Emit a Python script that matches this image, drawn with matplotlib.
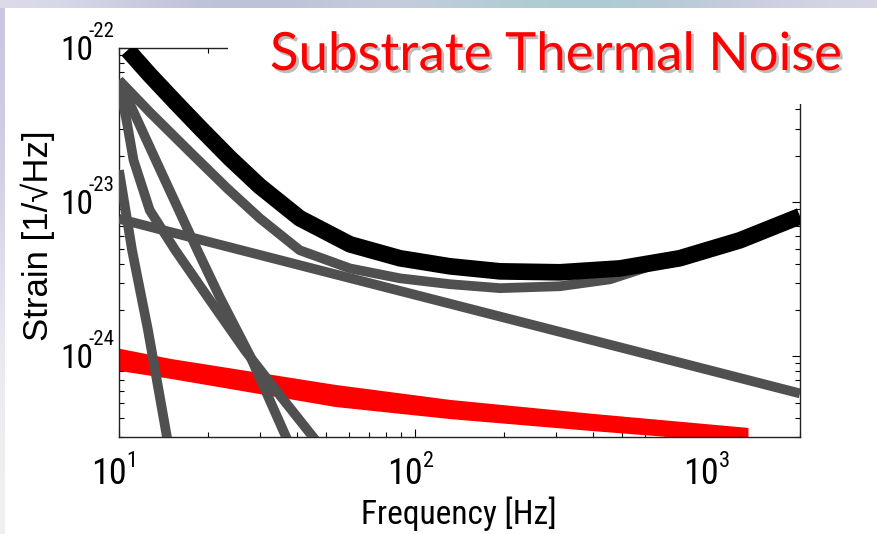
import numpy as np
import matplotlib
matplotlib.use('Agg')
import matplotlib.pyplot as plt
import matplotlib.patheffects as pe
from matplotlib import font_manager as fm
from matplotlib.patches import Rectangle

# total noise (black)
f_total = [10.7, 12.7, 15.5, 18.8, 23.7, 29.9, 40.8, 60.3, 88.9, 131, 194, 309, 493, 785, 1253, 2000]
s_total = [9.7e-23, 6.7e-23, 4.46e-23, 3.03e-23, 1.93e-23, 1.27e-23, 7.87e-24, 5.33e-24, 4.33e-24,
           3.84e-24, 3.56e-24, 3.51e-24, 3.72e-24, 4.33e-24, 5.66e-24, 8.11e-24]

# substrate contributions (grey)
f_sub = [10, 12.7, 17.4, 23.2, 29.9, 40.8, 60.3, 88.9, 131, 194, 309, 456, 622]
s_sub = [6.19e-23, 3.84e-23, 2.11e-23, 1.23e-23, 7.87e-24, 4.88e-24, 3.72e-24, 3.21e-24,
         2.94e-24, 2.77e-24, 2.85e-24, 3.16e-24, 3.84e-24]

f_steep = [10, 13.8, 18.4, 21.9, 27.7, 37.8]
s_steep = [6.19e-23, 1.61e-23, 4.88e-24, 2.42e-24, 1.01e-24, 2.64e-25]

f_bend = [10, 10.6, 11.2, 12.7, 15.5, 20.3, 26.7, 35.0, 47.7]
s_bend = [5.83e-23, 3.40e-23, 1.87e-23, 8.87e-24, 4.88e-24, 2.31e-24, 1.09e-24, 5.58e-25, 2.64e-25]

f_wall = [10, 11.07, 12.53, 14.75]
s_wall = [1.61e-23, 4.88e-24, 1.48e-24, 2.53e-25]

f_flat = [10, 100, 1000, 2000]
s_flat = [7.8e-24, 2.51e-24, 8.09e-25, 5.75e-25]

# red band
f_red = [10, 14.9, 53.7, 131, 398, 1334]
s_red_hi = [1.13e-24, 9.7e-25, 6.58e-25, 5.26e-25, 4.27e-25, 3.46e-25]
s_red_lo = [8.1e-25, 7.2e-25, 4.73e-25, 3.95e-25, 3.3e-25, 2.75e-25]

x_ticks = [10, 100, 1000]
x_exps = ['1', '2', '3']
y_ticks = [1e-24, 1e-23, 1e-22]
y_exps = ['-24', '-23', '-22']

grey = '#505050'


def narrow_font():
    # matlab-ish labels use a narrow helvetica; take whatever condensed sans is installed
    prefs = ['liberation sans narrow', 'arial narrow', 'roboto condensed', 'dejavu sans condensed',
             'dejavu sans', 'noto sans', 'open sans', 'lato', 'inter', 'roboto']
    found = {}
    for fe in fm.fontManager.ttflist:
        if fe.style != 'normal' or str(fe.stretch) not in ('condensed', 'semi-condensed', 'extra-condensed'):
            continue
        if fe.weight not in (400, 'normal', 'regular', 'book'):
            continue
        found.setdefault(fe.name.lower(), fe.fname)
    for p in prefs:
        if p in found:
            return found[p]
    if found:
        return sorted(found.items())[0][1]
    return None


nf = narrow_font()


def fp(size):
    if nf:
        return fm.FontProperties(fname=nf, size=size)
    return fm.FontProperties(family='Liberation Sans', size=size * 0.82)


fig = plt.figure(figsize=(8.78, 5.34), dpi=100)
fig.patch.set_facecolor('white')

W, H = 878.0, 534.0
ax = fig.add_axes([119 / W, 1 - 437 / H, 681 / W, 389 / H])
ax.set_xscale('log')
ax.set_yscale('log')

ax.fill_between(f_red, s_red_lo, s_red_hi, color='#ff0000', lw=0, zorder=2)
for fx, sx in [(f_wall, s_wall), (f_bend, s_bend), (f_steep, s_steep), (f_flat, s_flat), (f_sub, s_sub)]:
    ax.plot(fx, sx, color=grey, lw=7, solid_capstyle='butt', solid_joinstyle='round', zorder=3)
ax.plot(f_total, s_total, color='black', lw=12, solid_capstyle='butt', solid_joinstyle='round', zorder=4)

ax.set_xlim(10, 2000)
ax.set_ylim(3e-25, 1e-22)
ax.tick_params(which='both', direction='in', top=True, right=True, labelbottom=False, labelleft=False)
ax.tick_params(which='major', length=6, width=0.8)
ax.tick_params(which='minor', length=3.5, width=0.8)
for sp in ax.spines.values():
    sp.set_linewidth(1.0)
    sp.set_color('#222222')

for v, e in zip(x_ticks, x_exps):
    ax.annotate('10', xy=(v, 0), xycoords=('data', 'axes fraction'), xytext=(5.5, -33.5),
                textcoords='offset points', ha='right', va='baseline', fontproperties=fp(26))
    ax.annotate(e, xy=(v, 0), xycoords=('data', 'axes fraction'), xytext=(5.5, -21.5),
                textcoords='offset points', ha='left', va='baseline', fontproperties=fp(16))
for v, e in zip(y_ticks, y_exps):
    ax.annotate('10', xy=(0, v), xycoords=('axes fraction', 'data'), xytext=(-18.5, -8.5),
                textcoords='offset points', ha='right', va='baseline', fontproperties=fp(24))
    ax.annotate(e, xy=(0, v), xycoords=('axes fraction', 'data'), xytext=(-3, 8),
                textcoords='offset points', ha='right', va='baseline', fontproperties=fp(15))

fig.text(459 / W, 1 - 524 / H, 'Frequency [Hz]', ha='center', va='baseline', fontproperties=fp(24))
fig.text(38 / W, 1 - 236 / H, 'Strain [1/\u221AHz]', ha='center', va='center', rotation=90,
         fontsize=25, family=['Liberation Sans', 'DejaVu Sans'])

# white title box hiding part of the frame
fig.patches.append(Rectangle((228 / W, 1 - 104 / H), 1, 1, transform=fig.transFigure,
                             facecolor='white', edgecolor='none', zorder=5))
fig.text(556 / W, 1 - 70 / H, 'Substrate Thermal Noise', ha='center', va='baseline', fontsize=38,
         color='#ff0000', family=['Lato', 'DejaVu Sans'], zorder=6,
         path_effects=[pe.withSimplePatchShadow(offset=(2, -2), shadow_rgbFace='#909090', alpha=0.6)])

# slide decoration: gradient band on top, strip on the left
bg = fig.add_axes([0, 0, 1, 1], zorder=10)
bg.axis('off')
band = np.array([[[0.86, 0.86, 0.92], [0.76, 0.77, 0.86], [0.72, 0.75, 0.84], [0.80, 0.81, 0.88],
                  [0.70, 0.80, 0.83], [0.66, 0.80, 0.82], [0.76, 0.79, 0.86], [0.84, 0.84, 0.90]]])
bg.imshow(band, extent=[0, W, 8, 0], aspect='auto', interpolation='bicubic')
strip = np.array([[[0.80, 0.78, 0.88]], [[0.84, 0.82, 0.90]], [[0.92, 0.92, 0.94]], [[0.94, 0.94, 0.95]]])
bg.imshow(strip, extent=[0, 5, H, 8], aspect='auto', interpolation='bicubic')
bg.set_xlim(0, W)
bg.set_ylim(H, 0)

fig.savefig('out.png', dpi=100)
